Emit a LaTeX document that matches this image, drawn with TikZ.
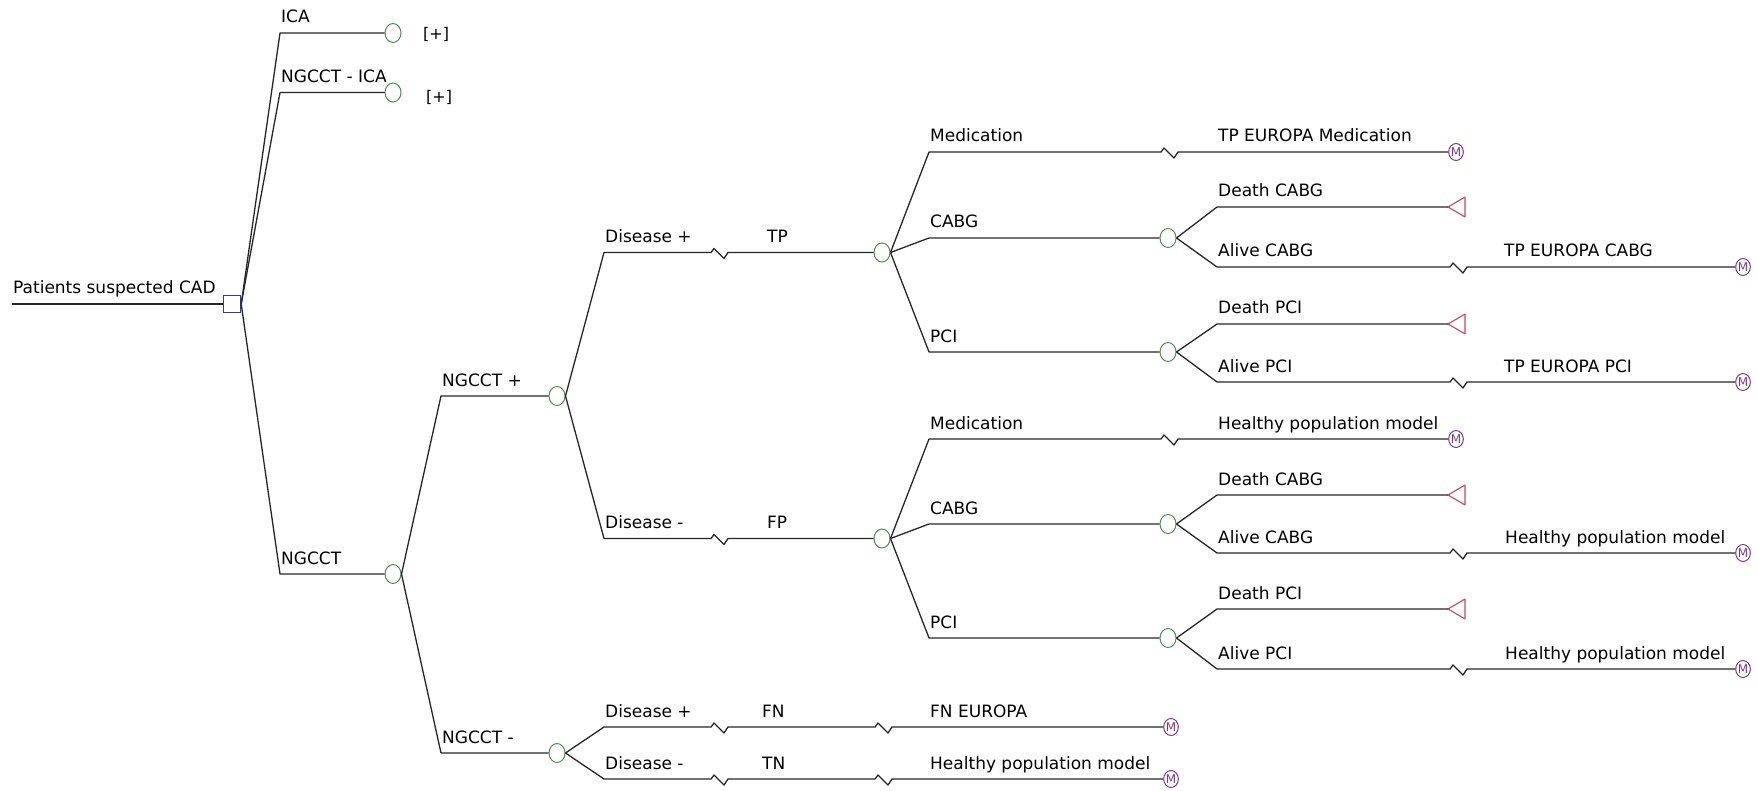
\documentclass[tikz,border=0pt]{standalone}
\usepackage{fontspec}
\setmainfont{DejaVu Sans}
\usetikzlibrary{shapes.geometric}
\definecolor{branch}{HTML}{262626}
\definecolor{chancegreen}{HTML}{4F8F4F}
\definecolor{decblue}{HTML}{3B3B80}
\definecolor{markovpurple}{HTML}{7A3A8A}
\definecolor{trired}{HTML}{C0485A}
% cut mark on a branch line
\newcommand\cutmark{-- ++(3,-4) -- ++(10,10) -- ++(4,-6)}
\begin{document}
\begin{tikzpicture}[x=1pt,y=-1pt,
  every node/.style={font=\fontsize{17}{20}\selectfont},
  edge/.style={draw=branch,line width=1.3pt,line join=round},
  chance/.style={ellipse,draw=chancegreen,line width=1pt,minimum width=16pt,minimum height=19pt,inner sep=0pt},
  decision/.style={rectangle,draw=decblue,line width=1.4pt,minimum size=17pt,inner sep=0pt},
  markov/.style={ellipse,draw=markovpurple,line width=1pt,minimum width=14pt,minimum height=17pt,inner sep=0pt,text=markovpurple,font=\fontsize{12}{12}\selectfont},
  lab/.style={anchor=base west,inner sep=0pt,xshift=1pt,yshift=10pt},
  endtri/.style={draw=trired,line width=1.1pt,line join=round},
]
\useasboundingbox (0,0) rectangle (1758,791);

% x positions of cut marks
\coordinate (zA) at (711,0);
\coordinate (zB) at (1161,0);
\coordinate (zC) at (1450,0);
\coordinate (zD) at (875,0);

% decision node
\coordinate (r0) at (12,304);
\node[decision] (root) at (232,304) {};

% branch vertices
\coordinate (vICA) at (280,33);
\coordinate (vNI) at (280,92.5);
\coordinate (vNG) at (280,574);
\coordinate (vNp) at (441,396);
\coordinate (vNm) at (441,753);
\coordinate (vD1) at (604,252.5);
\coordinate (vD2) at (604,538.5);
\coordinate (vD3) at (604,727);
\coordinate (vD4) at (604,779);
\coordinate (vM1) at (929,152);
\coordinate (vC1) at (929,238);
\coordinate (vP1) at (929,352);
\coordinate (vM2) at (929,439);
\coordinate (vC2) at (929,524);
\coordinate (vP2) at (929,638);
\coordinate (vDC1) at (1217,207);
\coordinate (vAC1) at (1217,267);
\coordinate (vDP1) at (1217,324);
\coordinate (vAP1) at (1217,382);
\coordinate (vDC2) at (1217,495);
\coordinate (vAC2) at (1217,553);
\coordinate (vDP2) at (1217,609);
\coordinate (vAP2) at (1217,669);

% chance nodes
\node[chance] (cICA) at (393,33) {};
\node[chance] (cNI) at (393,92.5) {};
\node[chance] (cNG) at (393,574) {};
\node[chance] (cNp) at (557,396) {};
\node[chance] (cNm) at (557,753) {};
\node[chance] (cTP) at (882,252.5) {};
\node[chance] (cFP) at (882,538.5) {};
\node[chance] (cC1) at (1168,238) {};
\node[chance] (cP1) at (1168,352) {};
\node[chance] (cC2) at (1168,524) {};
\node[chance] (cP2) at (1168,638) {};

% Markov terminal nodes
\node[markov] (mM1) at (1456,152) {M};
\node[markov] (mM2) at (1456,439) {M};
\node[markov] (mAC1) at (1743,267) {M};
\node[markov] (mAP1) at (1743,382) {M};
\node[markov] (mAC2) at (1743,553) {M};
\node[markov] (mAP2) at (1743,669) {M};
\node[markov] (mFN) at (1171,727) {M};
\node[markov] (mTN) at (1171,779) {M};

% death terminals (triangle tips)
\coordinate (tDC1) at (1448,207);
\coordinate (tDP1) at (1448,324);
\coordinate (tDC2) at (1448,495);
\coordinate (tDP2) at (1448,609);
\foreach \t in {tDC1,tDP1,tDC2,tDP2}
  \draw[endtri] (\t) -- ++(17,-10) -- ++(0,20) -- cycle;

% root branches
\draw[edge] (r0) -- (root.west);
\draw[edge] (root.east) -- (vICA) -- (cICA.west);
\draw[edge] (root.east) -- (vNI) -- (cNI.west);
\draw[edge] (root.east) -- (vNG) -- (cNG.west);

% NGCCT
\draw[edge] (cNG.east) -- (vNp) -- (cNp.west);
\draw[edge] (cNG.east) -- (vNm) -- (cNm.west);

% NGCCT +
\draw[edge] (cNp.east) -- (vD1) -- (vD1 -| zA) \cutmark -- (cTP.west);
\draw[edge] (cNp.east) -- (vD2) -- (vD2 -| zA) \cutmark -- (cFP.west);

% NGCCT -
\draw[edge] (cNm.east) -- (vD3) -- (vD3 -| zA) \cutmark -- (vD3 -| zD) \cutmark -- (mFN.west);
\draw[edge] (cNm.east) -- (vD4) -- (vD4 -| zA) \cutmark -- (vD4 -| zD) \cutmark -- (mTN.west);

% treatment branches
\foreach \c/\m/\k/\p/\mm/\ck/\pk in {cTP/vM1/vC1/vP1/mM1/cC1/cP1, cFP/vM2/vC2/vP2/mM2/cC2/cP2}{
  \draw[edge] (\c.east) -- (\m) -- (\m -| zB) \cutmark -- (\mm.west);
  \draw[edge] (\c.east) -- (\k) -- (\ck.west);
  \draw[edge] (\c.east) -- (\p) -- (\pk.west);
}

% outcome branches
\foreach \c/\d/\t/\a/\mm in {cC1/vDC1/tDC1/vAC1/mAC1, cP1/vDP1/tDP1/vAP1/mAP1, cC2/vDC2/tDC2/vAC2/mAC2, cP2/vDP2/tDP2/vAP2/mAP2}{
  \draw[edge] (\c.east) -- (\d) -- (\t);
  \draw[edge] (\c.east) -- (\a) -- (\a -| zC) \cutmark -- (\mm.west);
}

% branch labels
\node[lab] (lRoot) at (r0) {Patients suspected CAD};
\node[lab] (lICA) at (vICA) {ICA};
\node[lab] (lNI) at (vNI) {NGCCT - ICA};
\node[lab] (lNG) at (vNG) {NGCCT};
\node[lab] (lNp) at (vNp) {NGCCT +};
\node[lab] (lNm) at (vNm) {NGCCT -};
\node[lab] (lD1) at (vD1) {Disease +};
\node[lab] (lD2) at (vD2) {Disease -};
\node[lab] (lD3) at (vD3) {Disease +};
\node[lab] (lD4) at (vD4) {Disease -};
\node[lab] (lM1) at (vM1) {Medication};
\node[lab] (lC1) at (vC1) {CABG};
\node[lab] (lP1) at (vP1) {PCI};
\node[lab] (lM2) at (vM2) {Medication};
\node[lab] (lC2) at (vC2) {CABG};
\node[lab] (lP2) at (vP2) {PCI};
\node[lab] (lDC1) at (vDC1) {Death CABG};
\node[lab] (lAC1) at (vAC1) {Alive CABG};
\node[lab] (lDP1) at (vDP1) {Death PCI};
\node[lab] (lAP1) at (vAP1) {Alive PCI};
\node[lab] (lDC2) at (vDC2) {Death CABG};
\node[lab] (lAC2) at (vAC2) {Alive CABG};
\node[lab] (lDP2) at (vDP2) {Death PCI};
\node[lab] (lAP2) at (vAP2) {Alive PCI};

% labels after cut marks
\node[lab] (lTP) at (766,252.5) {TP};
\node[lab] (lFP) at (766,538.5) {FP};
\node[lab] (lFN) at (761,727) {FN};
\node[lab] (lTN) at (761,779) {TN};
\node[lab] (lFNE) at (929,727) {FN EUROPA};
\node[lab] (lTNE) at (929,779) {Healthy population model};
\node[lab] (lTPM) at (1217,152) {TP EUROPA Medication};
\node[lab] (lFPM) at (1217,439) {Healthy population model};
\node[lab] (lTPC) at (1503,267) {TP EUROPA CABG};
\node[lab] (lTPP) at (1503,382) {TP EUROPA PCI};
\node[lab] (lFPC) at (1504,553) {Healthy population model};
\node[lab] (lFPP) at (1504,669) {Healthy population model};

% collapsed subtrees
\node[anchor=west,inner sep=0pt,font=\fontsize{16}{19}\selectfont] (plusICA) at (423,34) {[+]};
\node[anchor=west,inner sep=0pt,font=\fontsize{16}{19}\selectfont] (plusNI) at (426,97.5) {[+]};
\end{tikzpicture}
\end{document}
